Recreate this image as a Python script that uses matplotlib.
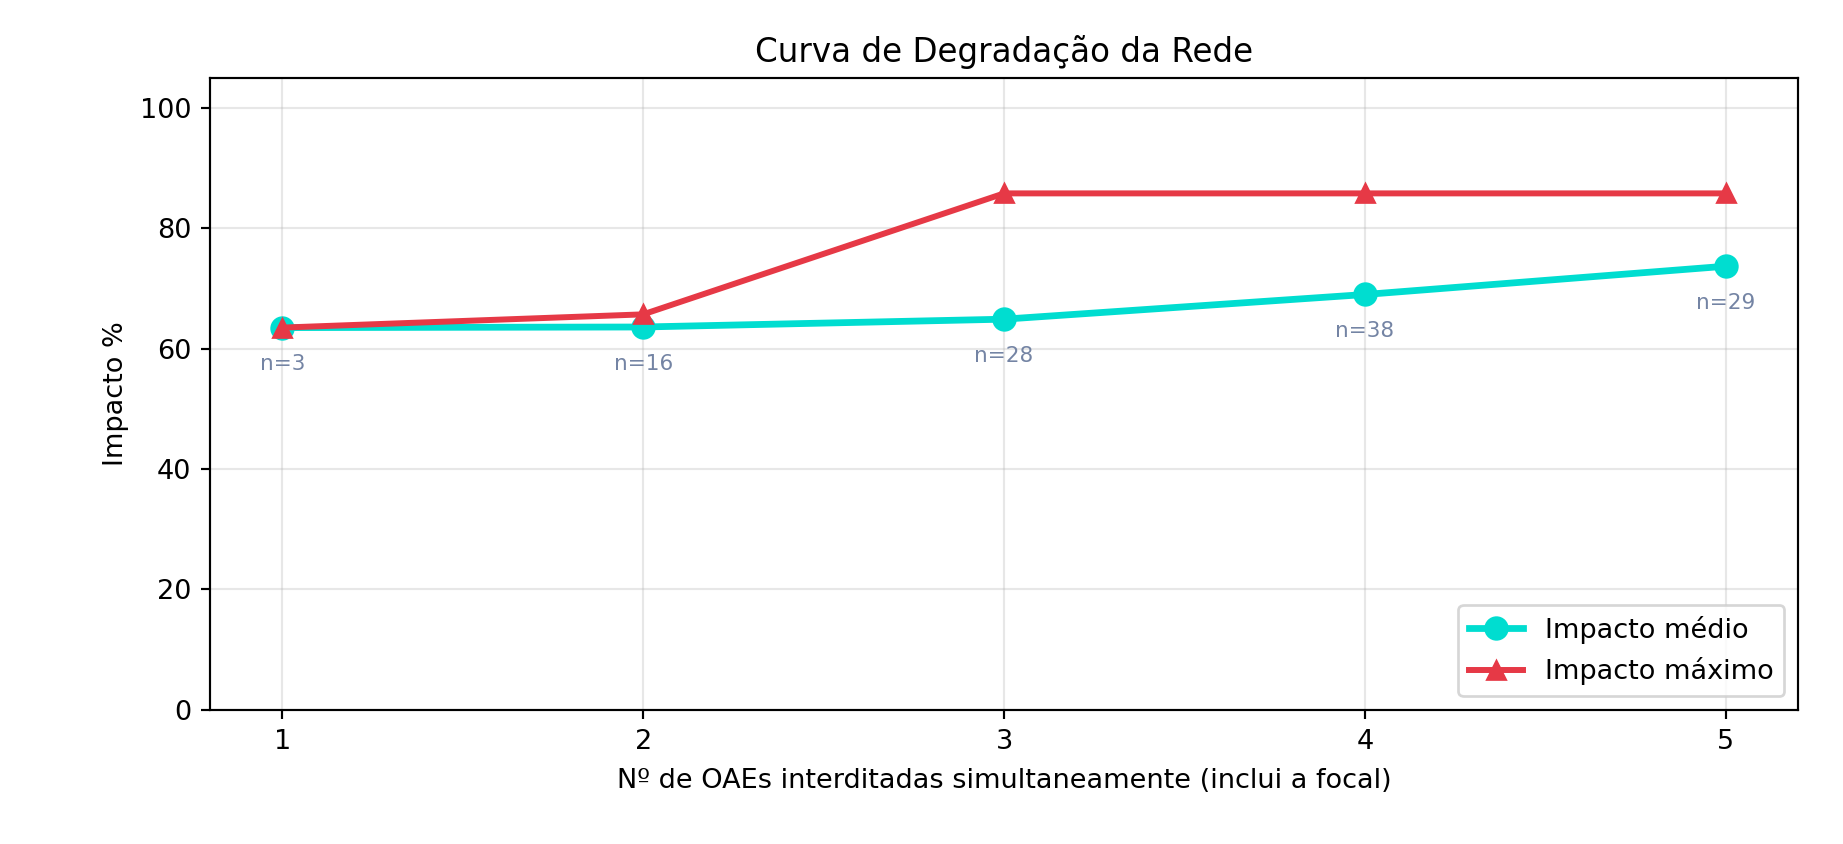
import matplotlib
matplotlib.use("Agg")
import matplotlib.pyplot as plt

# Number of simultaneously blocked structures
n_oaes = [1, 2, 3, 4, 5]
impacto_medio = [63.5, 63.6, 64.9, 69.0, 73.7]
impacto_maximo = [63.5, 65.7, 85.8, 85.8, 85.8]
n_amostras = [3, 16, 28, 38, 29]

DPI = 195
fig = plt.figure(figsize=(1843 / DPI, 844 / DPI), dpi=DPI)
ax = fig.add_axes([0.114, 0.159, 0.8616, 0.7488])

ax.plot(n_oaes, impacto_medio, marker="o", color="#00DDD0", linewidth=2.5,
        markersize=8, label="Impacto médio")
ax.plot(n_oaes, impacto_maximo, marker="^", color="#E63946", linewidth=2.2,
        markersize=7, label="Impacto máximo")

for x, y, n in zip(n_oaes, impacto_medio, n_amostras):
    ax.annotate(f"n={n}", (x, y), xytext=(0, -13.5), textcoords="offset points",
                ha="center", va="center", fontsize=8, color="#7484a4")

ax.set_xlim(0.8, 5.2)
ax.set_ylim(0, 105)
ax.set_xticks(n_oaes)
ax.grid(True, alpha=0.3)
ax.set_title("Curva de Degradação da Rede", fontsize=12)
ax.set_xlabel("Nº de OAEs interditadas simultaneamente (inclui a focal)", fontsize=10,
              labelpad=5)
ax.set_ylabel("Impacto %", fontsize=10)
ax.legend(loc="lower right", fontsize=10)

fig.savefig("out.png", dpi=DPI)
